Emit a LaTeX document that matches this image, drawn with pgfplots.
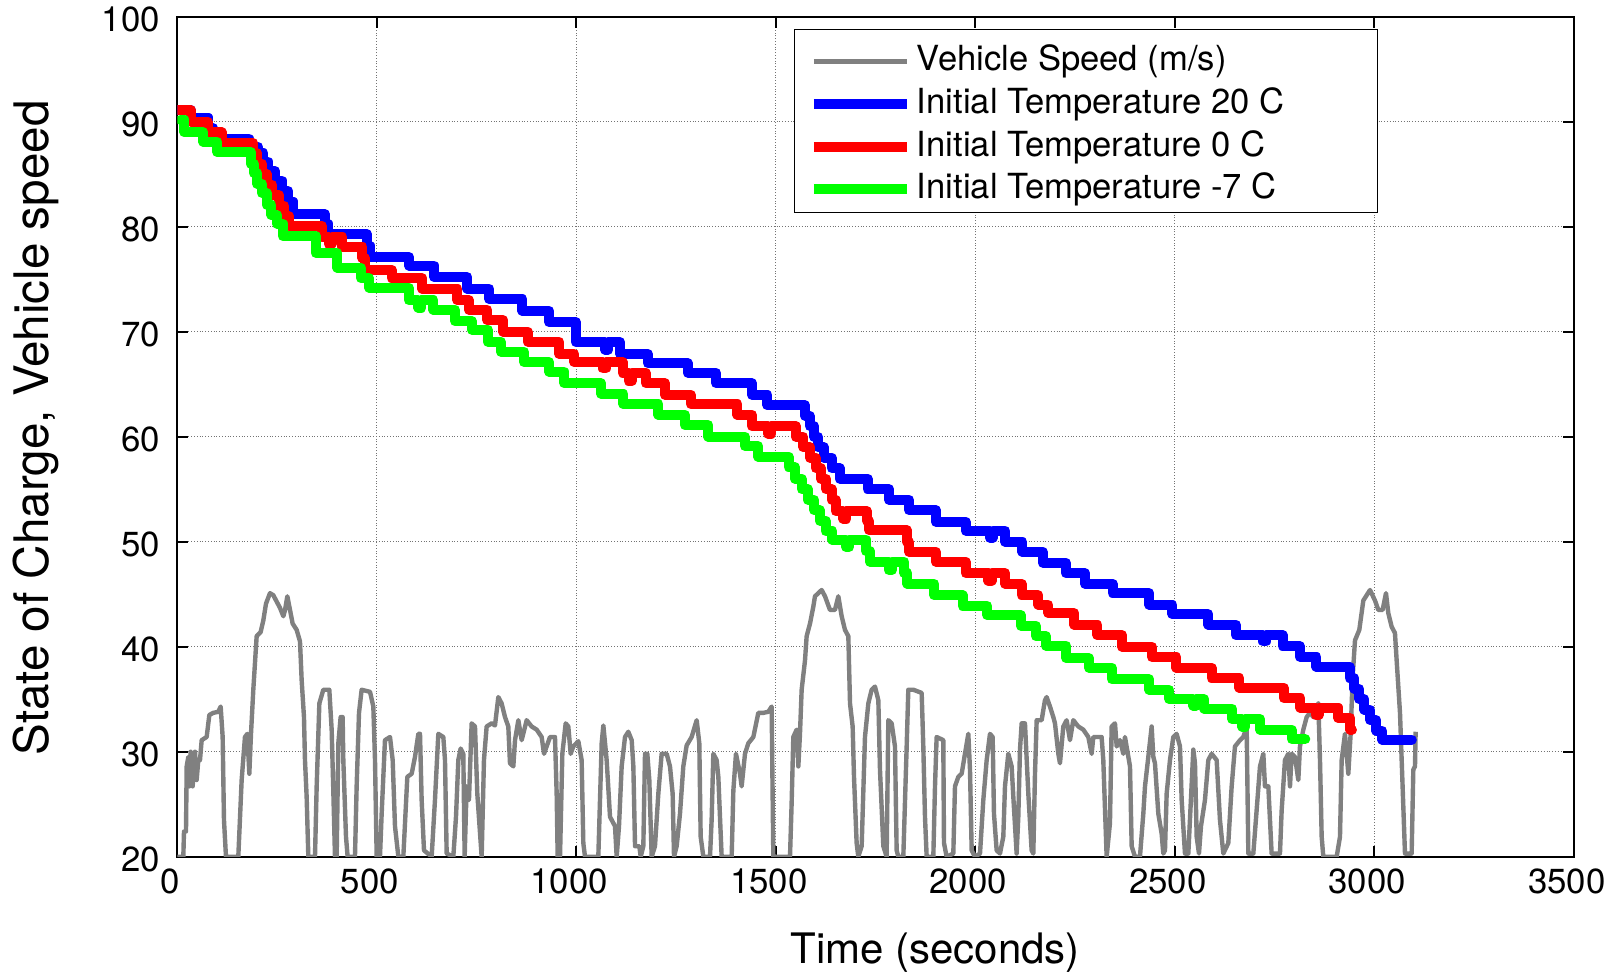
\documentclass[border=0pt]{standalone}
\usepackage{fontspec}
\setmainfont{TeX Gyre Heros}
\usepackage{pgfplots}
\pgfplotsset{compat=1.18}
\definecolor{speedgray}{RGB}{128,128,128}
\definecolor{socA}{RGB}{0,0,255}
\definecolor{socB}{RGB}{255,0,0}
\definecolor{socC}{RGB}{0,255,0}

\begin{document}
\begin{tikzpicture}
% page = 1618 x 975 px at 0.5pt per px
\path[use as bounding box] (-88.65pt,-59.15pt) rectangle (720.35pt,428.35pt);
\begin{axis}[
    at={(0,0)}, anchor=south west,
    scale only axis, width=698.25pt, height=420pt,
    xmin=0, xmax=3500, ymin=20, ymax=100,
    xtick={0,500,...,3500}, ytick={20,30,...,100},
    grid=major, grid style={densely dotted, black!55, line width=0.5pt},
    axis line style={line width=1pt},
    tick style={black, line width=0.9pt},
    tick align=inside, major tick length=5.5pt,
    xtick pos=both, ytick pos=both,
    font=\fontsize{17.4pt}{20pt}\selectfont,
    /pgf/number format/assume math mode=true,
    /pgf/number format/1000 sep={},
    xticklabel style={yshift=-2.7pt, xshift=-3.5pt},
    yticklabel style={xshift=-5.2pt, yshift=-1.5pt},
    xlabel={Time (seconds)},
    ylabel={State of Charge, Vehicle speed},
    xlabel style={font=\fontsize{21pt}{24pt}\selectfont, at={(axis description cs:0.5426,-0.1137)}, anchor=center},
    ylabel style={font=\fontsize{23.8pt}{27pt}\selectfont, at={(axis description cs:-0.1012,0.5104)}, anchor=center},
    legend style={at={(0.442,0.9723)}, anchor=north west, draw=none, fill=none,
        inner xsep=7pt, inner ysep=0pt,
        font=\fontsize{17.3pt}{20pt}\selectfont,
        nodes={inner sep=2.5pt, text height=12.8pt, text depth=3.5pt}},
    legend cell align=left,
    legend image code/.code={\draw[#1, line cap=butt] (0pt,0pt) -- (46.5pt,0pt);},
]
% vehicle speed (offset trace)
\addplot[speedgray, line width=2.2pt, line join=round] coordinates {
(0,20) (15.1,20) (16.8,22.4) (21.8,22.4) (23.5,28.6) (27.6,29.5) (30.2,26.7) (33.5,30.0) (38.5,26.7) (44.4,30.0)
(48.5,27.3) (52.7,29.2) (56.9,29.2) (61.1,31.1) (73.6,31.4) (80.3,33.5) (90.3,33.7) (102.8,33.8) (108.7,34.3) (113.7,31.4)
(117.0,23.5) (122.0,20) (152.9,20) (161.3,27.3) (169.6,31.4) (175.5,31.7) (180.5,27.9) (184.7,31.7) (190.5,35.9) (198.9,41.0)
(208.9,41.4) (215.6,42.5) (222.3,44.1) (232.3,45.1) (240.7,44.9) (249.0,44.3) (257.4,43.7) (265.8,42.9) (270.0,43.5) (275.8,44.8)
(282.5,43.5) (289.1,42.2) (299.2,41.6) (307.5,40.5) (311.7,36.8) (317.5,33.3) (320.0,29.2) (324.2,25.7) (328.4,20) (345.1,20)
(349.3,26.7) (356.0,34.6) (366.0,35.9) (381.0,35.9) (386.9,32.1) (391.0,26.3) (395.2,20) (399.4,20) (403.6,30.8) (409.4,33.3)
(414.4,33.3) (416.1,29.2) (422.8,21.9) (426.9,20) (445.3,20) (449.5,26.7) (455.4,33.7) (462.0,35.9) (483.0,35.7) (491.3,34.3)
(495.5,29.2) (499.7,20) (508.0,20) (512.2,24.1) (520.5,31.1) (533.1,31.4) (539.8,29.2) (545.6,22.9) (554.0,20) (566.5,20)
(576.5,27.6) (587.4,27.9) (595.7,29.5) (604.1,31.7) (608.3,31.7) (612.4,25.4) (618.3,20.6) (637.5,20) (645.8,25.4) (654.2,31.7)
(666.7,31.4) (670.9,29.2) (675.1,20.3) (691.8,20) (698.5,23.8) (704.3,29.2) (710.2,30.3) (716.8,29.8) (720.2,20) (725.2,26.7)
(731.0,25.4) (737.7,32.7) (746.1,32.4) (751.9,26.0) (762.8,20) (768.6,29.2) (775.3,32.4) (787.8,32.7) (796.2,32.5) (804.6,35.2)
(812.9,34.6) (821.3,33.3) (829.6,32.4) (833.8,28.9) (842.2,28.6) (846.4,31.1) (854.7,33.0) (863.1,31.1) (875.6,33.0) (888.1,32.4)
(900.7,32.1) (913.2,31.4) (919.1,29.8) (934.1,31.4) (946.6,31.4) (950.8,26.0) (953.3,20) (959.2,20) (965.0,29.8) (973.4,32.7)
(980.0,32.4) (985.9,29.8) (992.5,30.5) (1005.1,31.0) (1013.4,29.2) (1017.6,21.3) (1021.8,20) (1055.2,20) (1063.6,30.8) (1067.8,32.5)
(1076.1,29.2) (1084.5,23.8) (1097.0,22.9) (1101.2,20) (1107.0,22.9) (1113.7,28.6) (1122.1,31.4) (1130.4,31.9) (1138.8,31.1) (1143.0,28.6)
(1147.2,21.0) (1158.0,21.0) (1161.4,20) (1168.0,21.0) (1172.2,29.8) (1178.0,29.8) (1183.0,27.3) (1188.9,20) (1197.2,21.0) (1205.6,26.0)
(1213.9,29.8) (1226.5,29.8) (1234.8,28.6) (1241.5,26.0) (1244.9,20) (1251.5,21.0) (1259.9,24.1) (1268.2,28.6) (1276.6,30.6) (1289.1,31.4)
(1301.7,33.0) (1308.3,30.8) (1311.7,21.9) (1318.4,20) (1335.1,20) (1339.2,23.5) (1343.4,29.8) (1351.8,29.2) (1356.0,27.6) (1360.1,23.8)
(1364.3,20) (1389.4,20) (1393.6,26.3) (1400.2,29.8) (1410.3,27.9) (1414.4,26.7) (1422.8,29.8) (1431.1,30.8) (1443.7,31.4) (1456.2,33.7)
(1468.7,33.7) (1481.3,33.8) (1489.6,34.3) (1493.8,20) (1535.6,20) (1539.7,25.1) (1543.9,31.4) (1552.3,32.1) (1556.5,28.6) (1560.6,31.7)
(1564.8,35.9) (1573.2,38.7) (1577.3,41.0) (1585.7,42.2) (1594.0,43.8) (1598.2,44.8) (1606.6,45.1) (1614.9,45.4) (1623.3,44.8) (1635.8,43.5)
(1648.3,43.5) (1656.7,44.8) (1665.1,42.9) (1673.4,41.6) (1681.8,41.0) (1686.0,34.6) (1692.6,32.4) (1696.0,27.6) (1702.6,21.3) (1706.8,20)
(1715.2,21.0) (1723.5,31.4) (1731.9,34.6) (1740.2,35.9) (1748.6,36.2) (1757.0,34.9) (1761.1,28.3) (1769.5,21.0) (1777.8,20) (1782.0,33.0)
(1790.4,32.7) (1798.7,30.5) (1802.9,20.6) (1807.1,20) (1819.6,20) (1828.0,30.5) (1832.1,35.9) (1844.7,35.9) (1865.6,35.6) (1869.7,30.5)
(1873.9,23.8) (1878.1,20) (1894.8,20) (1899.0,26.7) (1903.1,31.4) (1919.8,31.1) (1921.5,21.3) (1928.2,20) (1944.9,20.3) (1949.1,26.7)
(1957.4,27.6) (1965.8,27.9) (1974.1,29.8) (1982.5,31.7) (1986.7,28.3) (1990.9,20.6) (1999.2,20) (2011.8,20.3) (2020.1,25.4) (2028.5,29.2)
(2036.8,31.7) (2043.5,31.4) (2046.8,24.1) (2053.5,20.6) (2061.9,20.3) (2070.2,21.9) (2074.4,26.7) (2082.7,29.8) (2091.1,28.6) (2095.3,25.7)
(2103.6,20.3) (2107.8,23.8) (2112.0,30.2) (2116.2,32.7) (2124.5,32.7) (2132.9,26.0) (2141.2,20.6) (2145.4,20.3) (2149.6,27.9) (2153.8,33.0)
(2166.3,33.0) (2174.6,34.9) (2178.8,35.2) (2187.2,34.3) (2195.5,33.3) (2199.7,32.7) (2208.1,29.8) (2212.2,28.9) (2220.6,32.4) (2228.9,33.0)
(2237.3,31.1) (2245.6,33.0) (2258.2,32.4) (2270.7,32.1) (2283.2,31.4) (2291.6,29.8) (2295.8,31.4) (2316.6,31.4) (2320.8,29.2) (2329.2,20)
(2337.5,23.2) (2341.7,32.4) (2350.1,32.7) (2354.3,30.5) (2362.6,31.1) (2371.0,29.8) (2375.1,31.4) (2387.7,28.6) (2391.9,21.0) (2400.2,20)
(2412.7,20) (2421.1,24.1) (2425.3,26.7) (2433.6,29.5) (2442.0,32.4) (2446.2,29.5) (2450.3,28.9) (2458.7,24.1) (2467.0,22.2) (2471.2,20.3)
(2475.4,20.6) (2479.6,26.0) (2487.9,29.2) (2496.3,31.4) (2504.6,31.7) (2513.0,30.5) (2517.2,25.4) (2525.5,20.3) (2533.9,20.3) (2546.4,30.2)
(2550.6,28.9) (2554.8,21.9) (2560.6,20.3) (2565.6,22.9) (2575.6,25.4) (2584.0,29.2) (2592.4,29.8) (2604.9,29.2) (2613.2,23.5) (2621.6,20.3)
(2634.1,21.3) (2642.5,26.7) (2650.8,30.5) (2663.4,31.1) (2671.7,31.4) (2680.1,32.4) (2684.3,20.3) (2696.8,20.3) (2713.5,28.6) (2721.9,29.8)
(2726.0,26.7) (2734.4,26.7) (2742.7,20.3) (2763.6,20.3) (2767.8,24.4) (2776.1,29.2) (2784.5,29.8) (2788.7,26.7) (2792.9,29.8) (2801.2,29.5)
(2809.6,27.3) (2813.7,30.5) (2822.1,32.1) (2830.5,33.3) (2838.8,33.7) (2847.2,33.3) (2855.5,33.3) (2859.7,34.6) (2863.9,29.2) (2868.1,21.9)
(2872.2,20) (2905.7,20) (2914.0,21.9) (2918.2,29.2) (2926.5,31.7) (2934.9,27.9) (2940.7,31.7) (2945.7,37.1) (2951.6,40.6) (2962.4,41.6)
(2972.5,44.4) (2989.2,45.4) (3001.7,44.4) (3010.0,43.5) (3020.9,43.5) (3029.3,45.1) (3035.1,43.2) (3043.5,41.9) (3051.8,41.3) (3056.0,38.7)
(3060.2,36.2) (3064.4,33.7) (3068.6,29.2) (3072.7,24.8) (3076.9,20.3) (3093.6,20.3) (3097.8,28.3) (3102.0,28.6) (3103.6,31.9)
};
\addlegendentry{Vehicle Speed (m/s)}
% SOC, initial temperature 20 C
\addplot[socA, line width=5pt, const plot, line join=round, line cap=round] coordinates {
(0,91.1) (34,90.4) (78,89.4) (90,88.4) (180,87.6) (203,87.0) (216,86.2) (228,85.3) (245,84.4) (262,83.4)
(278,82.4) (291,81.2) (370,80.3) (378,79.3) (475,78.2) (483,77.1) (581,76.3) (644,75.2) (727,74.1) (782,73.1)
(865,72.0) (932,70.9) (999,69.0) (1072,68.3) (1080,69.0) (1110,67.9) (1179,67.0) (1279,66.1) (1350,65.1) (1440,64.0)
(1479,63.0) (1573,62.0) (1585,61.0) (1596,60.0) (1606,59.0) (1620,58.0) (1640,57.0) (1660,56.0) (1730,55.0) (1784,54.0)
(1834,53.0) (1901,51.9) (1976,51.05) (2036,50.4) (2044,51.05) (2075,50.0) (2118,49.05) (2169,48.0) (2227,47.0) (2275,46.0)
(2344,45.1) (2436,44.0) (2494,43.1) (2584,42.1) (2653,41.1) (2721,40.5) (2729,41.1) (2770,40.06) (2813,39.05) (2855,38.1)
(2938,37.0) (2950,36.0) (2962,35.0) (2975,34.0) (2990,33.0) (3005,32.0) (3020,31.15) (3094,31.15)
};
\addlegendentry{Initial Temperature 20 C}
% SOC, initial temperature 0 C
\addplot[socB, line width=5pt, const plot, line join=round, line cap=round] coordinates {
(0,91.1) (34,90.0) (76,89.0) (111,88.0) (190,87.0) (200,86.0) (212,85.0) (224,84.0) (238,83.0) (255,82.0)
(268,81.0) (280,80.1) (362,79.0) (379,78.4) (387,79.0) (414,78.1) (464,77.0) (470,75.9) (537,75.1) (614,74.1)
(702,73.0) (731,72.1) (777,71.1) (817,70.0) (878,69.05) (957,67.9) (995,67.1) (1066,66.5) (1074,67.1) (1116,66.1)
(1131,65.3) (1139,66.1) (1174,65.1) (1222,64.0) (1287,63.1) (1404,62.1) (1440,61.0) (1481,60.3) (1489,61.0) (1550,60.0)
(1569,59.0) (1586,58.0) (1600,57.0) (1613,56.0) (1626,55.0) (1640,54.0) (1650,52.9) (1669,52.2) (1677,52.9) (1728,52.0)
(1734,51.1) (1828,50.0) (1834,49.05) (1901,48.1) (1976,47.0) (2033,46.3) (2041,47.0) (2075,46.0) (2116,44.9) (2158,44.0)
(2183,43.2) (2248,42.1) (2306,41.1) (2368,40.0) (2443,39.0) (2504,38.0) (2592,37.0) (2662,36.1) (2773,35.1) (2815,34.2)
(2853,33.5) (2861,34.2) (2910,33.2) (2940,32.1) (2944,32.1)
};
\addlegendentry{Initial Temperature 0 C}
% SOC, initial temperature -7 C
\addplot[socC, line width=5pt, const plot, line join=round, line cap=round] coordinates {
(8,90.2) (18,89.0) (65,88.1) (100,87.1) (184,86.0) (192,85.1) (200,84.1) (212,83.2) (224,82.1) (236,81.1)
(250,80.3) (264,79.1) (347,77.5) (401,76.1) (460,75.1) (481,74.2) (580,73.0) (604,72.3) (612,73.0) (642,72.1)
(696,71.0) (738,70.2) (778,69.05) (811,68.1) (869,67.1) (932,66.2) (970,65.1) (1062,64.1) (1118,63.1) (1206,62.1)
(1272,61.1) (1331,60.0) (1423,59.1) (1456,58.1) (1532,57.1) (1548,56.0) (1565,55.0) (1580,54.0) (1596,53.0) (1610,52.0)
(1625,51.0) (1642,50.2) (1676,49.5) (1684,50.2) (1726,49.1) (1736,48.1) (1783,47.3) (1791,48.1) (1822,47.0) (1830,46.0)
(1897,44.9) (1968,43.9) (2030,43.0) (2114,42.0) (2152,41.0) (2177,40.1) (2228,38.9) (2285,38.0) (2342,36.9) (2436,35.9)
(2486,35.0) (2546,34.4) (2554,35.0) (2574,34.1) (2644,33.1) (2669,32.4) (2677,33.1) (2714,32.1) (2793,31.2) (2827,31.2)
};
\addlegendentry{Initial Temperature -7 C}
% legend frame
\filldraw[fill=white, draw=black, line width=0.6pt]
    (axis description cs:0.442,0.985) rectangle (axis description cs:0.8595,0.7668);
\end{axis}
\end{tikzpicture}
\end{document}
